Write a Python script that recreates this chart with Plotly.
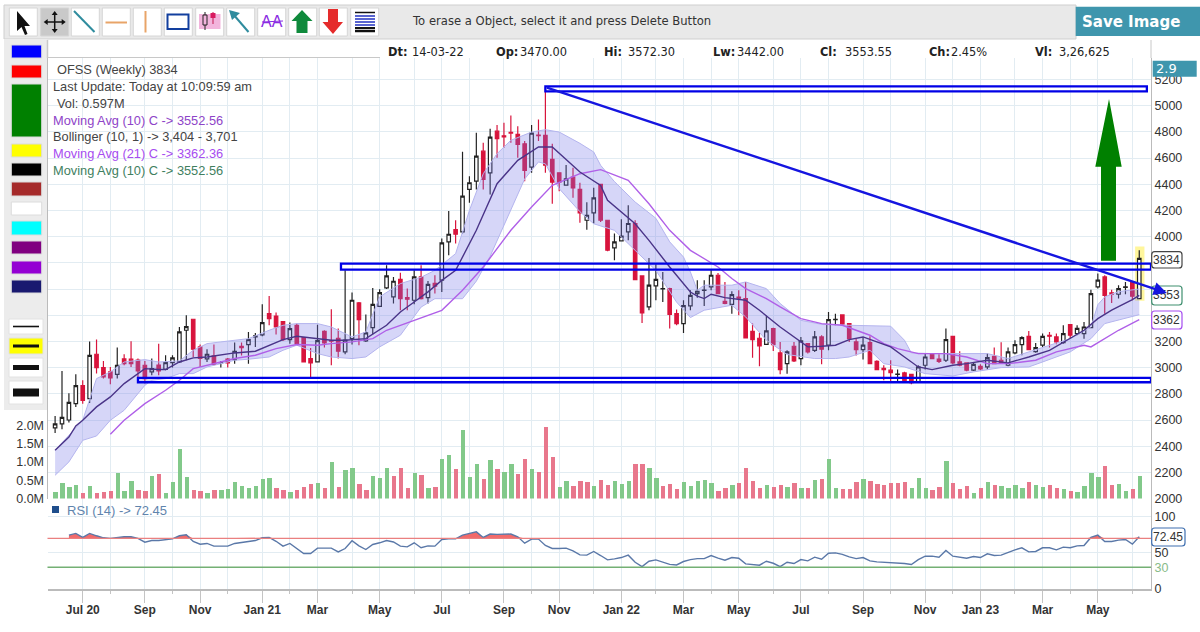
import plotly.graph_objects as go
import numpy as np

W, H = 1200, 632

# ---------- data ----------
opens = [2540,2570,2600,2725,2863,2763,3102,3000,2967,2949,3066,3064,3058,3018,2967,3020,2987,3038,3043,3285,
 3369,3158,3066,3089,3035,3064,3061,3163,3176,3235,3250,3412,3394,3351,3214,3323,3229,3069,3043,3277,
 3204,3224,3120,3221,3494,3204,3305,3468,3608,3540,3674,3535,3514,3692,3534,3643,3667,3959,4053,4036,
 4360,4423,4652,4487,4805,4770,4795,4780,4708,4530,4775,4772,4589,4487,4393,4454,4360,4125,4181,4398,
 4125,3914,3967,4036,4100,3700,3463,3624,3600,3603,3412,3336,3471,3565,3590,3616,3705,3505,3483,3538,
 3527,3277,3224,3178,3298,3112,3030,3163,3069,3183,3132,3234,3171,3366,3402,3336,3196,3137,3191,3048,
 2995,2980,2948,2959,2949,2891,3018,3099,3064,3056,3239,3043,3036,2980,3010,3005,3086,3056,3018,3112,
 3176,3239,3122,3171,3247,3234,3191,3328,3260,3260,3305,3616,3692,3570,3560,3613,3654,3527]
highs = [2630,2975,2805,2950,2903,3200,3214,3050,3005,3153,3102,3201,3070,3050,3069,3183,3094,3094,3310,3400,
 3369,3176,3140,3176,3051,3074,3191,3191,3272,3265,3483,3547,3420,3355,3344,3336,3234,3150,3328,3285,
 3445,3298,3743,3573,3501,3405,3608,3598,3781,3692,3725,3603,3743,3781,3662,3705,3985,4195,4125,4647,
 4461,4792,4716,4823,4851,4869,4925,4843,4729,4851,4894,5141,4708,4487,4546,4525,4411,4263,4372,4398,
 4125,4023,4132,4240,4125,3700,3837,3789,3730,3610,3443,3514,3590,3667,3667,3748,3723,3654,3583,3590,
 3654,3336,3265,3397,3305,3196,3132,3196,3234,3183,3280,3247,3425,3412,3402,3336,3221,3234,3239,3056,
 3018,3056,2985,2969,2954,3018,3107,3112,3102,3298,3239,3125,3040,3036,3025,3107,3153,3193,3153,3209,
 3239,3280,3188,3260,3272,3260,3323,3331,3323,3349,3595,3718,3705,3595,3629,3654,3659,3896]
lows = [2500,2530,2580,2700,2725,2730,2955,2916,2873,2916,3018,3005,2903,2878,2941,2941,2980,3000,3036,3056,
 3081,3005,3043,3018,3000,3000,3030,3092,3030,3158,3240,3323,3252,3204,3183,3183,3043,2921,3043,3153,
 3018,3069,3102,3176,3170,3196,3254,3463,3600,3489,3438,3438,3483,3519,3489,3565,3578,3858,3947,4023,
 4258,4360,4360,4322,4601,4678,4716,4601,4423,4487,4729,4487,4250,4347,4393,4296,4105,4053,4100,4112,
 3888,3819,3967,3972,3672,3341,3438,3514,3501,3298,3323,3265,3438,3534,3471,3590,3565,3483,3412,3400,
 3227,3076,3010,3178,3127,2949,2954,3043,3018,3107,3120,3025,3132,3323,3323,3196,3092,3061,3025,2980,
 2903,2891,2898,2891,2873,2891,2985,3064,3036,3043,3025,3010,2972,2975,2980,2985,3025,3030,3010,3102,
 3094,3132,3114,3158,3153,3178,3183,3221,3247,3221,3305,3603,3412,3494,3527,3560,3514,3527]
closes = [2570,2620,2735,2863,2750,3094,3000,2929,2921,3018,3030,3030,2975,2916,2992,2975,3038,3074,3272,3313,
 3140,3071,3102,3025,3038,3036,3125,3153,3214,3242,3344,3374,3310,3214,3298,3183,3043,3036,3206,3188,
 3201,3125,3209,3514,3366,3265,3483,3573,3700,3659,3527,3522,3692,3527,3636,3621,3952,4018,4018,4309,
 4411,4614,4436,4759,4747,4762,4790,4703,4505,4790,4770,4545,4416,4416,4441,4372,4181,4163,4296,4125,
 3896,3959,4003,4100,3672,3417,3629,3674,3603,3407,3336,3473,3552,3583,3592,3705,3565,3490,3557,3530,
 3227,3214,3165,3280,3176,2985,3120,3051,3204,3120,3234,3140,3366,3369,3331,3221,3137,3171,3030,2985,
 2985,2962,2950,2903,2885,3005,3081,3069,3048,3214,3036,3018,2980,3025,2990,3076,3030,3036,3120,3176,
 3229,3137,3153,3239,3240,3196,3260,3247,3300,3310,3565,3667,3552,3560,3603,3616,3545,3834]

volume = [.19,.42,.33,.37,.15,.35,.16,.19,.20,.71,.20,.48,.23,.20,.62,.68,.16,.45,1.35,.60,
 .23,.20,.16,.23,.23,.25,.45,.35,.30,.34,.54,.56,.28,.23,.17,.23,.31,.40,.43,.29,
 1.0,.32,.77,.85,.40,.23,.63,.57,.85,.63,.83,.28,.69,.65,.28,.31,1.08,1.2,.80,1.89,
 .60,.96,.55,1.05,.80,.73,.96,.68,1.08,.80,.72,1.96,1.15,.31,.48,.35,.48,.45,.35,.51,
 .37,.48,.40,.49,.96,.96,.85,.56,.35,.40,.25,.45,.35,.48,.51,.43,.20,.28,.37,.43,
 .85,.48,.28,.37,.32,.37,.31,.43,.28,.28,.51,.55,1.08,.28,.25,.25,.45,.54,.48,.40,
 .37,.43,.43,.45,.28,.56,.28,.23,.31,1.03,.44,.25,.34,.16,.28,.45,.37,.35,.28,.37,
 .28,.45,.37,.31,.37,.28,.25,.20,.17,.35,.71,.60,.88,.37,.40,.20,.25,.62]
vol_flags = ["g","g","g","g","r","g","r","r","r","g","g","g","r","r","g","r","g","g","g","g",
 "r","r","g","r","g","g","g","g","g","g","g","g","r","r","g","r","r","r","g","r",
 "g","r","g","g","r","r","g","g","g","r","r","r","g","r","g","r","g","g","r","g",
 "g","g","r","g","r","g","g","r","r","g","r","r","r","g","g","r","r","r","g","r",
 "r","g","g","g","r","r","g","g","r","r","r","g","g","g","g","g","r","r","g","r",
 "r","r","r","g","r","r","g","r","g","r","g","r","g","g","r","r","r","g","r","r",
 "r","r","r","r","g","g","g","r","r","g","r","r","r","g","r","g","r","g","g","g",
 "g","r","g","g","r","r","g","r","g","g","g","g","r","r","g","g","r","g"]

ma10_i = [0,2,3,4,6,8,10,12,13,15,16,18,20,22,24,26,29,31,33,35,38,40,42,45,48,50,52,54,56,58,61,64,67,70,72,76,79,80,84,86,89,92,93,94,95,97,100,102,105,108,109,111,113,115,117,119,121,123,125,127,130,132,135,138,141,144,147,149,151,153,156,157]
ma10_v = [2369,2470,2555,2598,2700,2776,2878,2954,2992,2985,2985,3043,3074,3081,3099,3112,3125,3170,3214,3239,3221,3209,3209,3221,3323,3425,3501,3578,3666,3742,4048,4404,4582,4684,4684,4493,4391,4277,4098,3971,3768,3577,3545,3527,3560,3534,3514,3438,3310,3196,3158,3163,3171,3214,3234,3196,3158,3081,3005,2985,3018,3030,3056,3036,3081,3132,3222,3285,3374,3438,3519,3552]

upper_i = [0,2,4,6,8,10,12,13,15,18,20,22,24,26,28,31,33,35,38,40,43,45,47,50,53,55,58,60,62,64,66,69,71,73,76,78,79,81,84,87,89,91,92,93,94,98,100,103,105,108,111,115,121,123,124,127,132,135,138,141,144,147,150,151,152,154,157]
upper_v = [2369,2480,2598,2916,2967,3043,3056,3061,3043,3051,3132,3183,3196,3209,3221,3285,3323,3336,3336,3310,3234,3272,3540,3641,3690,3742,3870,4200,4480,4633,4735,4798,4816,4798,4712,4646,4544,4420,4264,4140,3960,3844,3730,3590,3629,3629,3654,3603,3489,3361,3330,3323,3316,3209,3112,3107,3107,3107,3069,3120,3170,3221,3310,3480,3540,3580,3600]
lower_i = [0,2,4,6,8,10,13,14,16,18,20,22,24,26,28,31,33,35,38,40,43,45,47,50,53,55,59,61,63,66,68,70,71,73,76,78,81,84,87,90,92,94,98,100,103,106,110,113,115,118,120,123,126,130,133,137,141,143,147,150,152,157]
lower_v = [2178,2280,2445,2478,2598,2674,2865,2903,2916,2954,2954,3005,3030,3056,3064,3081,3132,3171,3107,3081,3069,3081,3158,3247,3462,3526,3526,3660,3850,4200,4440,4570,4555,4366,4190,4098,4048,3895,3742,3500,3382,3438,3476,3387,3209,3100,3069,3069,3081,3132,3030,3005,2954,2936,2967,3000,3005,3043,3120,3221,3336,3404]

ma21_i = [8,10,13,16,18,20,24,26,29,32,35,38,40,43,46,48,50,52,56,59,62,66,69,72,76,79,83,86,89,92,96,98,100,103,105,108,111,114,118,120,122,125,129,132,135,138,142,145,149,150,154,157]
ma21_v = [2491,2598,2725,2827,2903,2992,3043,3069,3094,3145,3176,3171,3183,3196,3221,3285,3323,3361,3437,3590,3768,4048,4226,4391,4480,4511,4430,4251,4048,3895,3768,3680,3603,3527,3463,3374,3336,3323,3247,3183,3145,3107,3107,3081,3030,3030,3056,3120,3170,3158,3285,3366]

rsi_i = list(range(2, 158))
rsi_v = [74.5,76.9,71.3,76.9,73.6,70.8,70,71.3,72.2,72.2,70,64.8,67,67,68.5,69.4,73.6,75,65.7,62,63,59.3,59.3,59.3,63,64.4,65.7,67,70.8,71.3,66,59.3,63,56,49,49,56.5,56.5,56.5,51.4,56,66.7,59.7,54.6,61.6,63.9,67,65,
 59.3,58.3,63.9,57,59.7,59.3,68.5,69.4,69.4,74.5,76.4,79,71.3,76,75.5,75.5,76,72.2,63.4,69,69,60.2,56,56,56.5,52.8,47.2,46.8,51.9,46.3,40.3,41.7,43.5,46.8,37,31,38.4,40.3,37.5,34,33.3,38,40.7,42,42,46.3,42.6,39.8,43.5,42.6,34.7,34.3,32.9,38.4,35.6,31,37,35.2,
 40.7,38.9,44,41.2,49.5,50,48,44.4,42,43.5,38.9,37.5,37,36.6,36,35.2,33.8,40.7,45.4,45.4,44,53.2,45.4,44,42.6,44.9,43.5,48.6,46.3,46.8,50.9,54.2,57,51.4,51.9,57,57,54.2,57.9,57,59.7,60.2,71.3,74.5,65.7,65.7,67.6,68.5,62,72.2]

major_ticks = [4,13,21,30,38,47,56,65,73,82,91,99,108,117,126,134,143,151]
major_labels = ["Jul 20","Sep","Nov","Jan 21","Mar","May","Jul","Sep","Nov","Jan 22","Mar","May","Jul","Sep","Nov","Jan 23","Mar","May"]
minor_ticks = [8,17,25,34,43,52,60,69,78,87,95,104,112,121,130,139,147,156]
price_ticks = list(range(2000, 5400, 200))
price_labels = ["" if p in (3400, 3600, 3800) else str(p) for p in price_ticks]
vol_ticks = [0, .5, 1, 1.5, 2]
vol_labels = ["0.0M","0.5M","1.0M","1.5M","2.0M"]
rsi_ticks = [0, 30, 50, 100]

channel_x0 = [71, 41.4, 12]
channel_x1 = [158.1, 158.7, 158.7]
channel_lo = [5109, 3748, 2888]
channel_hi = [5147, 3794, 2921]
trend_from = (71, 5141)
trend_to = (161, 3570)

# ---------- layout helpers (pixel -> paper for the application chrome) ----------
def fx(x): return x / W
def fy(y): return 1 - y / H
def P(x, y): return f"{fx(x):.5f},{fy(y):.5f}"

shapes, annos = [], []
def rect(x0, y0, x1, y1, fill, line=None, lw=1, layer="below"):
    shapes.append(dict(type="rect", xref="paper", yref="paper", x0=fx(x0), x1=fx(x1), y0=fy(y1), y1=fy(y0),
                       fillcolor=fill, line=dict(color=line or fill, width=lw if line else 0), layer=layer))
def seg(x0, y0, x1, y1, color, lw=1, layer="above"):
    shapes.append(dict(type="line", xref="paper", yref="paper", x0=fx(x0), x1=fx(x1), y0=fy(y0), y1=fy(y1),
                       line=dict(color=color, width=lw), layer=layer))
def poly(pts, fill, line=None, lw=0, layer="above"):
    path = "M" + " L".join(P(*p).replace(",", " ") for p in pts) + " Z"
    shapes.append(dict(type="path", xref="paper", yref="paper", path=path, fillcolor=fill,
                       line=dict(color=line or fill, width=lw), layer=layer))
def rrect(x0, y0, x1, y1, r, fill, line, lw=1.2):
    c = lambda x, y: P(x, y).replace(",", " ")
    path = (f"M{c(x0+r,y0)} L{c(x1-r,y0)} Q{c(x1,y0)} {c(x1,y0+r)} L{c(x1,y1-r)} Q{c(x1,y1)} {c(x1-r,y1)} "
            f"L{c(x0+r,y1)} Q{c(x0,y1)} {c(x0,y1-r)} L{c(x0,y0+r)} Q{c(x0,y0)} {c(x0+r,y0)} Z")
    shapes.append(dict(type="path", xref="paper", yref="paper", path=path, fillcolor=fill,
                       line=dict(color=line, width=lw), layer="above"))
def text(x, y, s, size=12, color="#333", family="Liberation Sans", anchor="left", bold=False):
    annos.append(dict(xref="paper", yref="paper", x=fx(x), y=fy(y), text=s, showarrow=False, xanchor=anchor,
                      yanchor="middle", borderpad=0, font=dict(size=size, color=color, family=family,
                      weight=700 if bold else 400)))

# --- toolbar
rect(4, 5, 1076, 39, "#e9e9e9", "#cfcfcf", 1)
rect(4, 39, 47, 410, "#ececec", None)
seg(47.5, 40, 47.5, 58, "#c8c8c8", 1.5, "below")
seg(47.5, 57.5, 380, 57.5, "#c8c8c8", 1, "below")
seg(1151, 40, 1151, 58, "#c8c8c8", 1, "below")
btn_x = [9.3, 40.7, 71.3, 102.3, 133.3, 164.3, 195.7, 226.7, 257.7, 288.7, 319.3, 350.7]
for k, bx in enumerate(btn_x):
    rect(bx, 8, bx + 28, 36, "#c9c9c9" if k == 1 else "#ffffff", "#d6d6d6", 1)
# cursor
poly([(17,11),(17,31),(21.5,27),(25,35),(27.5,34),(24.5,26),(30,26)], "#111")
# move
cx, cy = 54.7, 22
seg(cx-8, cy, cx+8, cy, "#111", 1.5); seg(cx, cy-8, cx, cy+8, "#111", 1.5)
poly([(cx-11,cy),(cx-7,cy-3),(cx-7,cy+3)], "#111"); poly([(cx+11,cy),(cx+7,cy-3),(cx+7,cy+3)], "#111")
poly([(cx,cy-11),(cx-3,cy-7),(cx+3,cy-7)], "#111"); poly([(cx,cy+11),(cx-3,cy+7),(cx+3,cy+7)], "#111")
seg(74, 11, 94.5, 32, "#2f8c9e", 2)
seg(105.5, 22.5, 127, 22.5, "#e8a468", 2)
seg(145.5, 11, 145.5, 32.5, "#e8a468", 2)
rect(167.5, 14.5, 188.5, 29, "#ffffff", "#123f9e", 2, "above")
rect(199, 14, 220.5, 29, "#f2b4dc", None, 0, "above")
seg(205, 12, 205, 30, "#222", 1); rect(203, 15, 207, 25, "#f2b4dc", "#222", 1, "above")
seg(213, 12, 213, 24, "#c2184f", 1); rect(210.5, 13, 215.5, 18, "#d81b60", None, 0, "above")
seg(233, 14, 248.5, 32, "#2f8c9e", 2)
poly([(229,10),(240,13),(232,20)], "#2f8c9e")
text(272, 22, "AA", 16, "#8a2be2", anchor="center")
seg(262, 22, 283, 21, "#8a2be2", 1)
poly([(302,10),(312.5,21),(307.5,21),(307.5,33),(296.5,33),(296.5,21),(291.5,21)], "#0f8a3c")
poly([(333,34),(343,22),(338,22),(338,9),(328,9),(328,22),(322.5,22)], "#e52b2b")
for yy, cc, lw in [(12.5,"#111",1.5),(16,"#2030c0",1.5),(19,"#2030c0",1.5),(22,"#2030c0",1.5),(25,"#2030c0",1.5),(28,"#111",2),(31,"#111",2.5)]:
    seg(355, yy, 375, yy, cc, lw)
text(411, 21.5, "To erase a Object, select it and press Delete Button", 11.6, "#333", "DejaVu Sans")
rect(1075.7, 6.7, 1200, 36, "#3f96ad", None)
text(1081, 22, "Save Image", 15, "#ffffff", "DejaVu Sans", bold=True)

# --- colour swatches
for (y0, y1, c) in [(45,58,"#0000ff"),(65,78,"#ff0000"),(84,137,"#008000"),(144,157,"#ffff00"),(163,176,"#000000"),
                    (182,196,"#a52a2a"),(202,215,"#ffffff"),(221,235,"#00ffff"),(241,254,"#800080"),(261,274,"#9400d3"),(280,293,"#191970")]:
    rect(11.3, y0, 41.7, y1, c, "#dcdcdc", 1)
for (y0, y1, bg, lw) in [(319,334,"#fff",1.6),(338,354,"#ffff00",3),(358,377,"#fff",5),(381,404,"#fff",8)]:
    rect(9, y0, 43, y1, bg, "#e2e2e2", 1)
    seg(13, (y0+y1)/2, 39, (y0+y1)/2, "#111", lw)

# --- quote row
for x, s, b in [(387,"Dt:",1),(411,"14-03-22",0),(494.5,"Op:",1),(519,"3470.00",0),(603,"Hi:",1),(627,"3572.30",0),
                (712,"Lw:",1),(735.5,"3442.00",0),(819,"Cl:",1),(843.5,"3553.55",0),(928,"Ch:",1),(949.5,"2.45%",0),
                (1034,"Vl:",1),(1058,"3,26,625",0)]:
    text(x, 52, s, 11.4, "#222", "DejaVu Sans", bold=bool(b))

# --- legend block
for x, y, s, c in [(55.5,69.5,"OFSS (Weekly) 3834","#444"),(51.5,86.5,"Last Update: Today at 10:09:59 am","#444"),
                   (55.5,103.5,"Vol: 0.597M","#444"),(51.5,120,"Moving Avg (10) C -> 3552.56","#8e44c8"),
                   (51.5,136.8,"Bollinger (10, 1) -> 3,404 - 3,701","#444"),(51.5,153.7,"Moving Avg (21) C -> 3362.36","#a64df0"),
                   (51.5,170.3,"Moving Avg (10) C -> 3552.56","#3f7f5f")]:
    text(x, y, s, 12.8, c)

rect(52, 506, 59, 513, "#1f4e8c", None, 0, "above")
text(65.5, 510, "RSI (14) -> 72.45", 13, "#5f84ad")

# --- green arrow marker
poly([(1109,99),(1121.7,166.7),(1116,166.7),(1116,260.7),(1101,260.7),(1101,166.7),(1095.3,166.7)], "#008000")

# --- value flags on the right axis
rect(1152.7, 60.7, 1196.7, 76.7, "#3f96ad", None, 0, "above")
text(1155, 68.7, "2.9", 13, "#ffffff", "DejaVu Sans")
rrect(1151.7, 251.7, 1182, 268, 3, "#ffffff", "#444")
text(1166.8, 259.5, "3834", 12, "#333", anchor="center")
rrect(1151.7, 286, 1182, 305, 3, "#ffffff", "#3f8f6f")
text(1166.8, 295, "3553", 12, "#333", anchor="center")
rrect(1151.7, 311, 1182, 329, 3, "#ffffff", "#a64df0")
text(1166.8, 320, "3362", 12, "#333", anchor="center")
rrect(1151.7, 528, 1185, 546, 3, "#ffffff", "#3f6fb0")
text(1168.3, 537, "72.45", 12, "#333", anchor="center")

# --- drawing objects on the chart, in data units
shapes.append(dict(type="rect", xref="x", yref="y", x0=156.4, x1=157.75, y0=3510, y1=3925,
                   fillcolor="rgba(255,240,90,0.6)", line=dict(width=0), layer="below"))
for x0, x1, lo, hi in zip(channel_x0, channel_x1, channel_lo, channel_hi):
    shapes.append(dict(type="rect", xref="x", yref="y", x0=x0, x1=x1, y0=lo, y1=hi,
                       line=dict(color="#0000e6", width=2.3), fillcolor="rgba(0,0,0,0)", layer="above"))
annos.append(dict(xref="x", yref="y", axref="x", ayref="y", x=trend_to[0], y=trend_to[1], ax=trend_from[0], ay=trend_from[1],
                  text="", showarrow=True, arrowcolor="#1515e0", arrowwidth=2.4, arrowhead=2, arrowsize=1.1))

# ---------- traces ----------
idx = list(range(len(closes)))
GREEN, RED = "#82c98a", "#e8778c"
fig = go.Figure()
fig.add_trace(go.Scatter(x=lower_i, y=lower_v, mode="lines", line=dict(color="#b4b4ee", width=1), hoverinfo="skip", showlegend=False))
fig.add_trace(go.Scatter(x=upper_i, y=upper_v, mode="lines", line=dict(color="#b4b4ee", width=1), fill="tonexty",
                         fillcolor="rgba(120,120,232,0.30)", hoverinfo="skip", showlegend=False))
fig.add_trace(go.Scatter(x=ma21_i, y=ma21_v, mode="lines", line=dict(color="#b060e8", width=1.4), showlegend=False))
fig.add_trace(go.Scatter(x=ma10_i, y=ma10_v, mode="lines", line=dict(color="#4a3488", width=1.4), showlegend=False))
fig.add_trace(go.Candlestick(x=idx, open=opens, high=highs, low=lows, close=closes, whiskerwidth=0,
                             increasing=dict(line=dict(color="#222222", width=1.2), fillcolor="#ffffff"),
                             decreasing=dict(line=dict(color="#d8143c", width=1.2), fillcolor="#d8143c"), showlegend=False))
fig.add_trace(go.Bar(x=idx, y=volume, width=0.63, yaxis="y2", marker=dict(color=[GREEN if f == "g" else RED for f in vol_flags], line=dict(width=0)), showlegend=False))
base70 = [70] * len(rsi_i)
fig.add_trace(go.Scatter(x=rsi_i, y=base70, yaxis="y3", mode="lines", line=dict(width=0), hoverinfo="skip", showlegend=False))
fig.add_trace(go.Scatter(x=rsi_i, y=np.maximum(rsi_v, 70).tolist(), yaxis="y3", mode="lines", line=dict(width=0), fill="tonexty",
                         fillcolor="#f26a6a", hoverinfo="skip", showlegend=False))
shapes.append(dict(type="line", xref="paper", yref="y3", x0=fx(47.5), x1=fx(1151), y0=70, y1=70, line=dict(color="#ea8080", width=1.2), layer="above"))
shapes.append(dict(type="line", xref="paper", yref="y3", x0=fx(47.5), x1=fx(1151), y0=30, y1=30, line=dict(color="#74b074", width=1.6), layer="above"))
fig.add_trace(go.Scatter(x=rsi_i, y=rsi_v, yaxis="y3", mode="lines", line=dict(color="#5a78a8", width=1.4), showlegend=False))

GRID = "#e2ecf2"
AX = dict(family="Liberation Sans", size=12.5, color="#333")
dom_x = [fx(47.5), fx(1151)]
price_bottom, price_top = 498.6, 58
k_price = 26.2 / 200
fig.update_layout(
    width=W, height=H, margin=dict(l=0, r=0, t=0, b=0, autoexpand=False), autosize=False,
    paper_bgcolor="#ffffff", plot_bgcolor="rgba(0,0,0,0)", showlegend=False, boxgap=0.28, bargap=0,
    xaxis=dict(domain=dom_x, range=[-1.1, 158.7], anchor="y3", tickmode="array", tickvals=major_ticks, ticktext=major_labels,
               ticks="outside", ticklen=12, ticklabelstandoff=-3, tickcolor="#c4c4c4", tickfont=dict(family="Liberation Sans", size=12, color="#333", weight=700),
               showgrid=True, gridcolor=GRID, gridwidth=1, showline=True, linecolor="#bbbbbb", linewidth=1.5, zeroline=False,
               rangeslider=dict(visible=False),
               minor=dict(tickmode="array", tickvals=minor_ticks, ticks="outside", ticklen=3, tickcolor="#c4c4c4", showgrid=True, gridcolor=GRID, gridwidth=1)),
    yaxis=dict(domain=[fy(price_bottom), fy(price_top)], range=[2000, 2000 + (price_bottom - price_top) / k_price], side="right", anchor="x",
               tickmode="array", tickvals=price_ticks, ticktext=price_labels, tickfont=AX, ticks="", ticklen=0, showgrid=True, gridcolor=GRID, zeroline=False,
               showline=True, linecolor="#bbbbbb", linewidth=1, mirror=False),
    yaxis2=dict(domain=[fy(price_bottom), fy(price_top)], overlaying="y", range=[0, (price_bottom - price_top) / 36.5], side="left", anchor="x",
                tickmode="array", tickvals=vol_ticks, ticktext=vol_labels, tickfont=AX, ticks="", showgrid=False, zeroline=False,
                showline=True, linecolor="#bbbbbb", linewidth=1),
    yaxis3=dict(domain=[fy(589), fy(price_bottom)], range=[0, (589 - price_bottom) / 0.723], side="right", anchor="x",
                tickmode="array", tickvals=rsi_ticks, ticktext=["0", '<span style="color:#88bb88">30</span>', "50", "100"], tickfont=AX,
                ticks="", showgrid=True, gridcolor=GRID, zeroline=False, showline=True, linecolor="#bbbbbb", linewidth=1),
    shapes=shapes, annotations=annos,
)
fig.write_html("out.html", config={"displayModeBar": False},
               post_script="document.body.style.margin='0';document.documentElement.style.overflow='hidden';")
